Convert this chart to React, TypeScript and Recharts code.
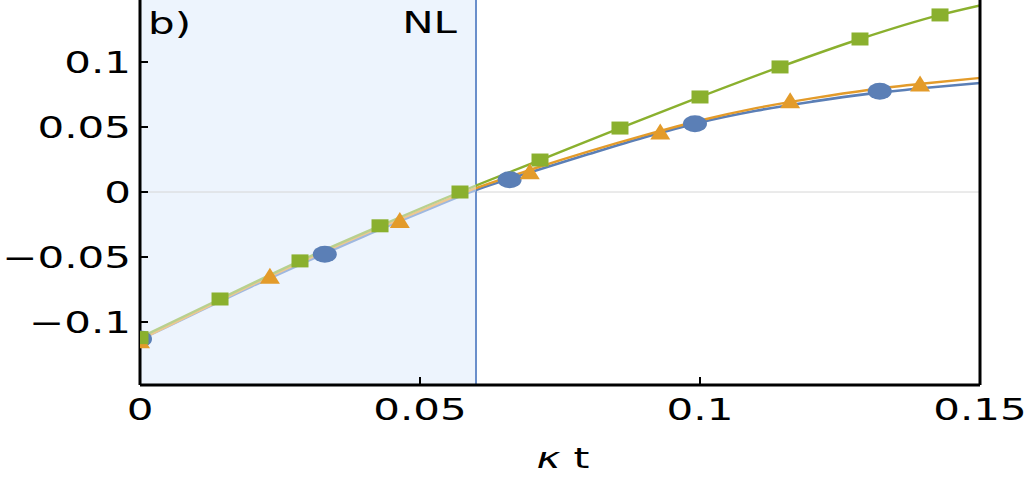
import React from "react";
import {
  ComposedChart,
  Line,
  Scatter,
  XAxis,
  YAxis,
  ReferenceArea,
  ReferenceLine,
} from "recharts";

// ---- data ----
const curveX = [0, 0.01, 0.02, 0.03, 0.04, 0.05, 0.06, 0.07, 0.08, 0.09, 0.1, 0.11, 0.12, 0.13, 0.14, 0.15];
const blueCurveY = [-0.1135, -0.093, -0.0725, -0.053, -0.034, -0.016, 0.0015, 0.0155, 0.029, 0.042, 0.0535, 0.0625, 0.0695, 0.0755, 0.08, 0.0838];
const orangeCurveY = [-0.1135, -0.0925, -0.0715, -0.0515, -0.0325, -0.0145, 0.003, 0.0175, 0.031, 0.0435, 0.055, 0.0645, 0.072, 0.0785, 0.0835, 0.0877];

const greenX = [0, 0.01429, 0.02857, 0.04286, 0.05714, 0.07143, 0.08571, 0.1, 0.11429, 0.12857, 0.14286, 0.15];
const greenY = [-0.112, -0.0823, -0.053, -0.026, 0.0, 0.0246, 0.0492, 0.0731, 0.0962, 0.1177, 0.1362, 0.1435];

const blueMarkX = [0, 0.033, 0.066, 0.0991, 0.1321];
const blueMarkY = [-0.113, -0.0478, 0.0095, 0.0525, 0.0775];
const orangeMarkX = [0, 0.0232, 0.0464, 0.0696, 0.0929, 0.1161, 0.1393];
const orangeMarkY = [-0.114, -0.0645, -0.0215, 0.016, 0.0465, 0.0705, 0.0835];
const greenMarkX = [0, 0.01429, 0.02857, 0.04286, 0.05714, 0.07143, 0.08571, 0.1, 0.11429, 0.12857, 0.14286];
const greenMarkY = [-0.112, -0.0823, -0.053, -0.026, 0.0, 0.0246, 0.0492, 0.0731, 0.0962, 0.1177, 0.1362];

const xTicks = [0, 0.05, 0.1, 0.15];
const xTickLabels = ["0", "0.05", "0.1", "0.15"];
const yTicks = [-0.1, -0.05, 0, 0.05, 0.1];
const yTickLabels = ["\u22120.1", "\u22120.05", "0", "0.05", "0.1"];

const nlX = 0.06;
const xDomain = [0, 0.15];
const yDomain = [-0.14846, 0.15154];

const zip = (xs: number[], ys: number[]) => xs.map((x, i) => ({ x, y: ys[i] }));
const blueCurve = zip(curveX, blueCurveY);
const orangeCurve = zip(curveX, orangeCurveY);
const greenCurve = zip(greenX, greenY);
const blueMarks = zip(blueMarkX, blueMarkY);
const orangeMarks = zip(orangeMarkX, orangeMarkY);
const greenMarks = zip(greenMarkX, greenMarkY);

const BLUE = "#5B7FB6";
const ORANGE = "#E39B2A";
const GREEN = "#8AB02E";
const FONT = "DejaVu Sans, sans-serif";
const SX = 1.4;

const YTick = (props: any) => {
  const { x, y, index } = props;
  return (
    <g>
      <line x1={x} x2={x + 8} y1={y} y2={y} stroke="#000" strokeWidth={2} />
      <text
        transform={`translate(${x - 9},${y + 11}) scale(${SX},1)`}
        textAnchor="end"
        fontSize={30}
        fontFamily={FONT}
        fill="#000"
      >
        {yTickLabels[index]}
      </text>
    </g>
  );
};

const XTick = (props: any) => {
  const { x, y, index } = props;
  return (
    <g>
      <line x1={x} x2={x} y1={y} y2={y - 8} stroke="#000" strokeWidth={2} />
      <text
        transform={`translate(${x},${y + 35}) scale(${SX},1)`}
        textAnchor="middle"
        fontSize={30}
        fontFamily={FONT}
        fill="#000"
      >
        {xTickLabels[index]}
      </text>
    </g>
  );
};

const Circle = (props: any) => {
  const { cx, cy } = props;
  return <ellipse cx={cx} cy={cy} rx={12} ry={8.5} fill={BLUE} />;
};
const Tri = (props: any) => {
  const { cx, cy } = props;
  const w = 10, h = 8;
  return <polygon points={`${cx - w},${cy + h} ${cx + w},${cy + h} ${cx},${cy - h}`} fill={ORANGE} />;
};
const Sq = (props: any) => {
  const { cx, cy } = props;
  return <rect x={cx - 8.5} y={cy - 6.5} width={17} height={13} fill={GREEN} />;
};

const App = () => {
  return (
    <div style={{ position: "absolute", left: 0, top: -6, width: 1036, height: 487 }}>
      <ComposedChart
        width={1036}
        height={487}
        margin={{ top: 1, right: 56, bottom: 36, left: 0 }}
      >
        <defs>
          <linearGradient id="gBlue" x1="0" x2="1" y1="0" y2="0">
            <stop offset="0.4" stopColor="#9FB8E0" />
            <stop offset="0.4" stopColor={BLUE} />
          </linearGradient>
          <linearGradient id="gOrange" x1="0" x2="1" y1="0" y2="0">
            <stop offset="0.4" stopColor="#EDC891" />
            <stop offset="0.4" stopColor={ORANGE} />
          </linearGradient>
          <linearGradient id="gGreen" x1="0" x2="1" y1="0" y2="0">
            <stop offset="0.4" stopColor="#B8D08E" />
            <stop offset="0.4" stopColor={GREEN} />
          </linearGradient>
        </defs>
        <XAxis
          dataKey="x"
          type="number"
          domain={xDomain}
          ticks={xTicks}
          allowDataOverflow
          height={60}
          tickSize={0}
          tickMargin={0}
          tickLine={false}
          axisLine={{ stroke: "#000", strokeWidth: 3 }}
          tick={<XTick />}
          interval={0}
          label={(p: any) => {
            const vb = p.viewBox || {};
            const cx = vb.x + vb.width / 2 + 3;
            return (
              <text
                transform={`translate(${cx},${vb.y + 83}) scale(${SX},1)`}
                textAnchor="middle"
                fontSize={29}
                fontFamily={FONT}
                fill="#000"
              >
                <tspan fontStyle="italic">κ</tspan>
                <tspan> t</tspan>
              </text>
            );
          }}
        />
        <YAxis
          dataKey="y"
          type="number"
          domain={yDomain}
          ticks={yTicks}
          allowDataOverflow
          width={140}
          tickSize={0}
          tickMargin={0}
          tickLine={false}
          axisLine={{ stroke: "#000", strokeWidth: 3 }}
          tick={<YTick />}
          interval={0}
        />
        <ReferenceArea
          x1={xDomain[0]}
          x2={nlX}
          y1={yDomain[0]}
          y2={yDomain[1]}
          fill="#EDF4FD"
          fillOpacity={1}
          stroke="none"
          label={(p: any) => {
            const vb = p.viewBox || {};
            return (
              <text
                transform={`translate(${vb.x + 8},${vb.y + 39}) scale(${SX},1)`}
                fontSize={30}
                fontFamily={FONT}
                fill="#000"
              >
                b)
              </text>
            );
          }}
        />
        <ReferenceLine y={0} stroke="#D6D6D6" strokeWidth={1} />
        <ReferenceLine
          x={nlX}
          stroke="#6A8FCB"
          strokeWidth={2}
          label={(p: any) => {
            const vb = p.viewBox || {};
            return (
              <text
                transform={`translate(${vb.x - 19},${vb.y + 38}) scale(${SX},1)`}
                textAnchor="end"
                fontSize={30}
                fontFamily={FONT}
                fill="#000"
              >
                NL
              </text>
            );
          }}
        />
        <Line data={blueCurve} dataKey="y" type="monotone" stroke="url(#gBlue)" strokeWidth={2.6} dot={false} activeDot={false} isAnimationActive={false} />
        <Line data={orangeCurve} dataKey="y" type="monotone" stroke="url(#gOrange)" strokeWidth={2.4} dot={false} activeDot={false} isAnimationActive={false} />
        <Line data={greenCurve} dataKey="y" type="monotone" stroke="url(#gGreen)" strokeWidth={2.4} dot={false} activeDot={false} isAnimationActive={false} />
        <Scatter data={blueMarks} dataKey="y" shape={<Circle />} isAnimationActive={false} />
        <Scatter data={orangeMarks} dataKey="y" shape={<Tri />} isAnimationActive={false} />
        <Scatter data={greenMarks} dataKey="y" shape={<Sq />} isAnimationActive={false} />
        <ReferenceLine x={xDomain[1]} stroke="#000" strokeWidth={3} />
      </ComposedChart>
    </div>
  );
};

export default App;
